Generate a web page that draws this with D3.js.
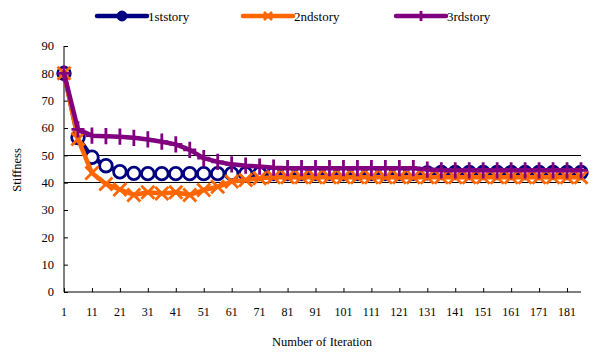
<!DOCTYPE html>
<html><head><meta charset="utf-8">
<script src="https://cdn.jsdelivr.net/npm/d3@7"></script>
<style>body{margin:0;background:#fff;} svg{display:block;font-family:"Liberation Serif","Times New Roman",serif;}</style>
</head><body><svg id="c" width="596" height="352"></svg>
<script>
const iterations = [1,6,11,16,21,26,31,36,41,46,51,56,61,66,71,76,81,86,91,96,101,106,111,116,121,126,131,136,141,146,151,156,161,166,171,176,181,186];
const story1 = [80,56.5,49.3,46.2,44,43.4,
  43.3,43.3,43.3,43.3,43.3,43.3,43.3,43.3,43.3,43.3,43.3,43.3,43.3,43.3,43.3,43.3,43.3,43.3,43.3,
  43.4,43.6,
  43.7,43.7,43.7,43.7,43.7,43.7,43.7,43.7,43.7,43.7,43.7];
const story2 = [80,56,43.5,39.5,37.5,35.5,36.5,36,36.5,35.5,37.3,38.5,40.4,41,41.6,42,
  42,42,42,42,42,42,42,42,42,42,42,42,42,42,42,42,42,42,42,42,42,42];
const story3 = [80,59.5,57.2,57,56.8,56.4,55.8,55,54,52,49,47.6,46.7,46.2,45.9,45.5,
  45.3,45.3,45.3,45.3,45.3,45.3,45.3,45.3,45.3,45.3,
  44.8,
  44.5,44.5,44.5,44.5,44.5,44.5,44.5,44.5,44.5,44.5,44.5];
const seriesNames = ["1ststory","2ndstory","3rdstory"];
const seriesColors = ["#000080","#FF6600","#800080"];
const yTicks = [0,10,20,30,40,50,60,70,80,90];
const gridValues = [40,50];
const xLabelEvery = 2;

const svg = d3.select("#c");
const L = 64, R = 581, T = 46, B = 292;
const x = d3.scalePoint().domain(iterations).range([L, R]);
const y = d3.scaleLinear().domain([0, 90]).range([B, T]);

// grid lines
svg.append("g").selectAll("line").data(gridValues).join("line")
  .attr("x1", L).attr("x2", R).attr("y1", d => y(d)).attr("y2", d => y(d))
  .attr("stroke", "#000").attr("stroke-width", 1).attr("shape-rendering","crispEdges");

// y axis
const yAxis = svg.append("g").attr("transform", `translate(${L},0)`)
  .call(d3.axisRight(y).tickValues(yTicks).tickSize(4).tickFormat(""));
yAxis.select(".domain").attr("d", `M0,${B}V${T}`).attr("stroke","#000");
yAxis.selectAll(".tick line").attr("stroke","#000");
svg.append("g").selectAll("text").data(yTicks).join("text")
  .attr("x", 54).attr("y", d => y(d)).attr("dy","0.35em").attr("text-anchor","end")
  .attr("font-size", 12.5).attr("fill","#000").text(d => d);

// x axis
const xTickVals = iterations.filter((d,i) => i % xLabelEvery === 0);
const xAxis = svg.append("g").attr("transform", `translate(0,${B})`)
  .call(d3.axisTop(x).tickValues(xTickVals).tickSize(4).tickFormat(""));
xAxis.select(".domain").attr("d", `M${L},0H${R}`).attr("stroke","#000");
xAxis.selectAll(".tick line").attr("stroke","#000");
svg.append("g").selectAll("text").data(xTickVals).join("text")
  .attr("x", d => x(d)).attr("y", 316).attr("text-anchor","middle")
  .attr("font-size", 12).attr("fill","#000").text(d => d);

// axis titles
svg.append("text").attr("transform","translate(21,170) rotate(-90)").attr("text-anchor","middle")
  .attr("font-size",12.5).attr("fill","#000").text("Stiffness");
svg.append("text").attr("x",322).attr("y",346).attr("text-anchor","middle")
  .attr("font-size",12.5).attr("fill","#000").text("Number of Iteration");

const allSeries = [story1, story2, story3];
const line = d3.line().x((d,i) => x(iterations[i])).y(d => y(d));

function drawMarker(g, k, cx, cy, s, legend) {
  const c = seriesColors[k];
  if (k === 0) {
    g.append("circle").attr("cx",cx).attr("cy",cy).attr("r", legend ? 4 : 6.3)
      .attr("fill", legend ? c : "#fff").attr("stroke", c).attr("stroke-width", 2.8);
  } else if (k === 1) {
    g.append("path").attr("d",`M${cx-s},${cy-s}L${cx+s},${cy+s}M${cx-s},${cy+s}L${cx+s},${cy-s}`)
      .attr("stroke", c).attr("stroke-width", 2.8).attr("fill","none");
  } else {
    g.append("path").attr("d",`M${cx},${cy-s*1.25}V${cy+s*1.25}M${cx-s},${cy}H${cx+s}`)
      .attr("stroke", c).attr("stroke-width", 2.8).attr("fill","none");
  }
}

allSeries.forEach((vals, k) => {
  const g = svg.append("g");
  g.append("path").datum(vals).attr("d", line).attr("fill","none")
    .attr("stroke", seriesColors[k]).attr("stroke-width", 4.5)
    .attr("stroke-linejoin","round").attr("stroke-linecap","round");
  vals.forEach((v,i) => drawMarker(g, k, x(iterations[i]), y(v), 6.5, false));
});

// legend
const legendX = [97, 243, 396];
seriesNames.forEach((name, k) => {
  const g = svg.append("g");
  const lx = legendX[k], ly = 16;
  g.append("line").attr("x1", lx).attr("x2", lx+50).attr("y1", ly).attr("y2", ly)
    .attr("stroke", seriesColors[k]).attr("stroke-width", 4.5).attr("stroke-linecap","round");
  drawMarker(g, k, lx+25, ly, 4, true);
  g.append("text").attr("x", lx+51).attr("y", ly+5).attr("font-size", 13).attr("fill","#000").text(name);
});
</script></body></html>
